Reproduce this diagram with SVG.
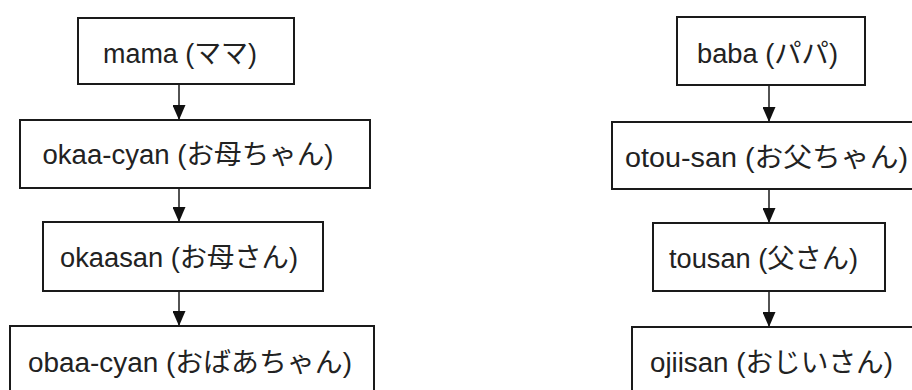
<svg xmlns="http://www.w3.org/2000/svg" width="912" height="390" viewBox="0 0 912 390">
<defs>
<style>
.box{fill:#fff;stroke:#1a1a1a;stroke-width:2}
.lbl{font-family:"Liberation Sans","Noto Sans CJK JP",sans-serif;font-size:27px;fill:#222;text-anchor:middle}
.con{stroke:#1a1a1a;stroke-width:1.5;fill:none;marker-end:url(#ah)}
</style>
<marker id="ah" viewBox="0 0 15 13" refX="15" refY="6.5" markerWidth="15" markerHeight="13" orient="auto" markerUnits="userSpaceOnUse">
<path d="M0,0 L15,6.5 L0,13 z" fill="#111"/>
</marker>
</defs>
<rect width="912" height="390" fill="#fff"/>
<g id="connectors">
<line class="con" x1="179" y1="84" x2="179" y2="120"/>
<line class="con" x1="179" y1="188" x2="179" y2="222"/>
<line class="con" x1="179" y1="291" x2="179" y2="326"/>
<line class="con" x1="769" y1="85" x2="769" y2="122"/>
<line class="con" x1="769" y1="189" x2="769" y2="223"/>
<line class="con" x1="769" y1="291" x2="769" y2="327"/>
</g>
<g id="mama">
<rect class="box" x="78" y="18" width="216" height="66"/>
<text class="lbl" x="180" y="63" textLength="154" lengthAdjust="spacingAndGlyphs">mama (ママ)</text>
</g>
<g id="okaa-cyan">
<rect class="box" x="20" y="120" width="350" height="68"/>
<text class="lbl" x="188" y="164" textLength="291" lengthAdjust="spacingAndGlyphs">okaa-cyan (お母ちゃん)</text>
</g>
<g id="okaasan">
<rect class="box" x="43" y="222" width="280" height="69"/>
<text class="lbl" x="179" y="267" textLength="238" lengthAdjust="spacingAndGlyphs">okaasan (お母さん)</text>
</g>
<g id="obaa-cyan">
<rect class="box" x="10" y="326" width="364" height="72"/>
<text class="lbl" x="190" y="372" textLength="324" lengthAdjust="spacingAndGlyphs">obaa-cyan (おばあちゃん)</text>
</g>
<g id="baba">
<rect class="box" x="677" y="17" width="188" height="68"/>
<text class="lbl" x="767.5" y="63" textLength="141" lengthAdjust="spacingAndGlyphs">baba (パパ)</text>
</g>
<g id="otou-san">
<rect class="box" x="612" y="122" width="310" height="67"/>
<text class="lbl" x="766.5" y="167" textLength="283" lengthAdjust="spacingAndGlyphs">otou-san (お父ちゃん)</text>
</g>
<g id="tousan">
<rect class="box" x="653" y="223" width="232" height="68"/>
<text class="lbl" x="763.5" y="268" textLength="189" lengthAdjust="spacingAndGlyphs">tousan (父さん)</text>
</g>
<g id="ojiisan">
<rect class="box" x="632" y="327" width="290" height="72"/>
<text class="lbl" x="771.5" y="372" textLength="243" lengthAdjust="spacingAndGlyphs">ojiisan (おじいさん)</text>
</g>
</svg>
